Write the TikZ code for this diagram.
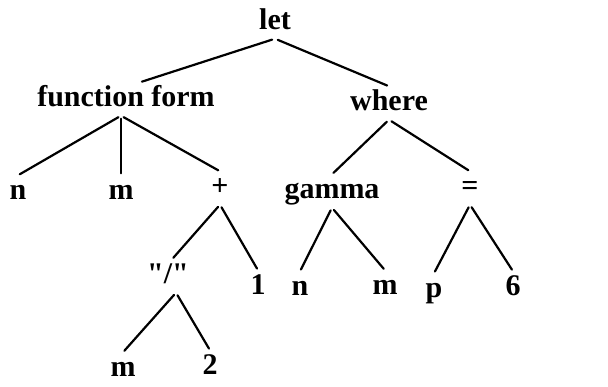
\documentclass[tikz,border=0pt]{standalone}
\usepackage{fontspec}
\setmainfont{Liberation Serif}
\usepackage{tikz}

\tikzset{
    lbl/.style={font=\fontsize{30}{30}\selectfont\bfseries, inner sep=3pt, text height=21pt, text depth=6pt},
    branch/.style={line width=2.2pt, line cap=round, shorten <=3pt, shorten >=2pt}
}

\begin{document}
\begin{tikzpicture}[x=1pt, y=-1pt]
    \useasboundingbox (0, 0) rectangle (608, 387);

    % Define the nodes of the tree
    \node[lbl] (let) at (275, 22) {let};
    \node[lbl] (fform) at (126, 99) {function form};
    \node[lbl] (where) at (389, 103) {where};
    \node[lbl] (n1) at (18, 192) {n};
    \node[lbl] (m1) at (121, 192) {m};
    \node[lbl] (plus) at (220, 188) {+};
    \node[lbl] (gamma) at (332, 191) {gamma};
    \node[lbl] (eq) at (470, 188) {=};
    \node[lbl] (slash) at (168, 276) {\textquotedbl/\textquotedbl};
    \node[lbl] (one) at (258, 287) {1};
    \node[lbl] (n2) at (300, 288) {n};
    \node[lbl] (m2) at (385, 287) {m};
    \node[lbl] (p) at (434, 290) {p};
    \node[lbl] (six) at (513, 288) {6};
    \node[lbl] (m3) at (123, 369) {m};
    \node[lbl] (two) at (210, 367) {2};

    % Draw the branches
    \draw[branch] (let.south) -- ([xshift=14pt]fform.north);
    \draw[branch] (let.south) -- (where.north);
    \draw[branch] ([xshift=-5pt]fform.south) -- (n1.north);
    \draw[branch] ([xshift=-5pt]fform.south) -- (m1.north);
    \draw[branch] ([xshift=-5pt]fform.south) -- (plus.north);
    \draw[branch] (where.south) -- (gamma.north);
    \draw[branch] (where.south) -- (eq.north);
    \draw[branch] (plus.south) -- ([xshift=4pt]slash.north);
    \draw[branch] (plus.south) -- (one.north);
    \draw[branch] (gamma.south) -- (n2.north);
    \draw[branch] (gamma.south) -- (m2.north);
    \draw[branch] (eq.south) -- (p.north);
    \draw[branch] (eq.south) -- (six.north);
    \draw[branch] ([xshift=8pt]slash.south) -- (m3.north);
    \draw[branch] ([xshift=8pt]slash.south) -- (two.north);
\end{tikzpicture}
\end{document}
